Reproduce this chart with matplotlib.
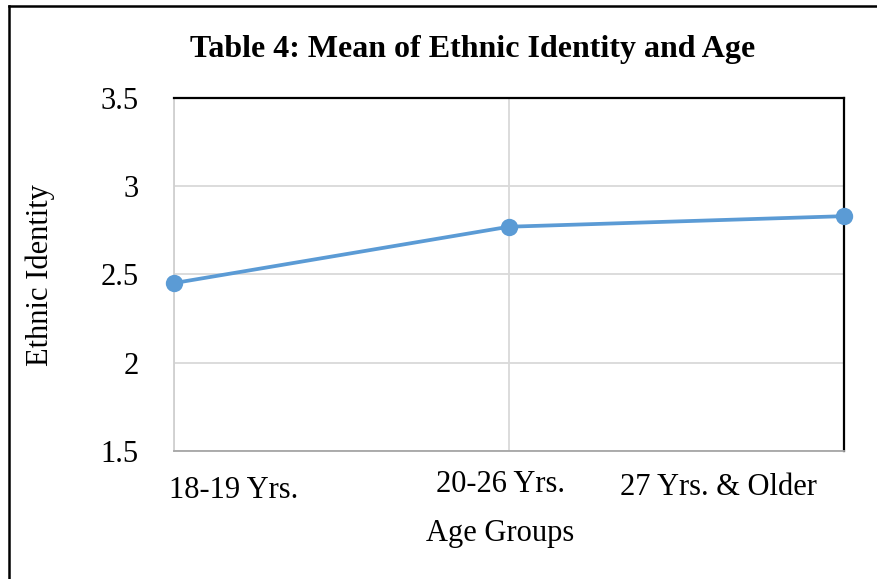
import matplotlib
matplotlib.use("Agg")
import matplotlib.pyplot as plt
from matplotlib.lines import Line2D

categories = ["18-19 Yrs.", "20-26 Yrs.", "27 Yrs. & Older"]
means = [2.45, 2.77, 2.83]
yticks = [1.5, 2, 2.5, 3, 3.5]
ytick_labels = ["1.5", "2", "2.5", "3", "3.5"]
title = "Table 4: Mean of Ethnic Identity and Age"
xlabel = "Age Groups"
ylabel = "Ethnic Identity"

plt.rcParams['font.family'] = ['Liberation Serif', 'DejaVu Serif']

W, H = 877, 579
fig = plt.figure(figsize=(W / 100, H / 100), dpi=100)
fig.patch.set_facecolor("white")

left, right, top, bottom = 173.5, 844, 98, 450.7
ax = fig.add_axes([left / W, 1 - bottom / H, (right - left) / W, (bottom - top) / H])

x = list(range(len(categories)))
ax.plot(x, means, color="#5B9BD5", lw=2.7, marker="o", markersize=12.5,
        markeredgewidth=0, clip_on=False, zorder=5)

ax.set_xlim(0, len(categories) - 1)
ax.set_ylim(yticks[0], yticks[-1])
ax.set_yticks(yticks)
ax.set_yticklabels(ytick_labels, fontsize=22)
ax.tick_params(axis="y", length=0, pad=25)
ax.set_xticks(x)
ax.set_xticklabels([])
ax.tick_params(axis="x", length=0)
ax.grid(True, color="#D9D9D9", lw=1.3)
ax.set_axisbelow(True)

for side in ["top", "right"]:
    ax.spines[side].set_color("black")
    ax.spines[side].set_linewidth(1.6)
ax.spines["left"].set_color("#D0D0D0")
ax.spines["left"].set_linewidth(1.3)
ax.spines["bottom"].set_color("#A6A6A6")
ax.spines["bottom"].set_linewidth(1.3)

# category labels (offsets mimic the reference layout)
offsets_pt = [(43.2, -28.8), (-6.1, -24.4), (-90.7, -26.6)]
trans = ax.get_xaxis_transform()
for i, (lab, (dx, dy)) in enumerate(zip(categories, offsets_pt)):
    ax.annotate(lab, xy=(x[i], 0), xycoords=trans, xytext=(dx, dy),
                textcoords="offset points", ha="center", va="center",
                fontsize=22, annotation_clip=False)

fig.text(473 / W, 1 - 50 / H, title, ha="center", va="center",
         fontsize=23, fontweight="bold")
fig.text(500 / W, 1 - 533 / H, xlabel, ha="center", va="center", fontsize=22)
fig.text(40 / W, 1 - 275 / H, ylabel, ha="center", va="center",
         fontsize=22, rotation=90)

# outer frame (left and top edges visible)
fig.add_artist(Line2D([9 / W, 9 / W], [0, 1 - 6 / H], color="black", lw=1.8,
                      transform=fig.transFigure))
fig.add_artist(Line2D([9 / W, 1], [1 - 6 / H, 1 - 6 / H], color="black", lw=1.8,
                      transform=fig.transFigure))

fig.savefig("out.png", dpi=100)
